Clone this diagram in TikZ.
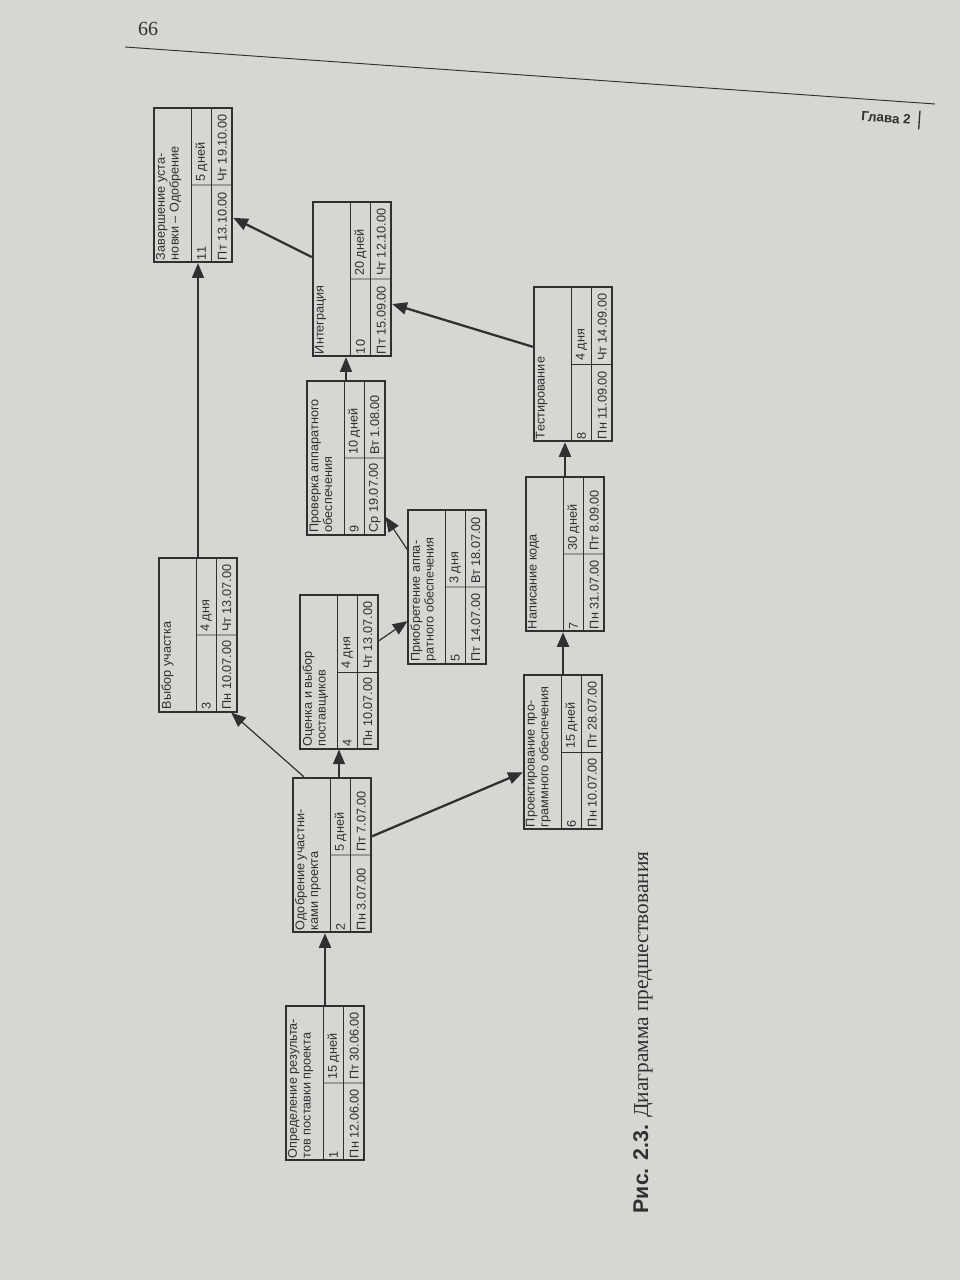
\documentclass[tikz,border=0pt]{standalone}
\usepackage{fontspec}
\setmainfont{Liberation Serif}
\setsansfont{Liberation Sans}
\usetikzlibrary{arrows.meta,calc}

\definecolor{paper}{RGB}{214,214,211}
\definecolor{ink}{RGB}{48,48,48}

\tikzset{
  taskbox/.style={draw=ink,rotate=90,minimum width=115.5pt,minimum height=58.5pt,inner sep=0pt},
  critical/.style={line width=1.8pt},
  plain/.style={line width=0.8pt},
  cell/.style={rotate=90,inner sep=2.2pt,text=ink,font=\sffamily\fontsize{9.5}{10.3}\selectfont},
  link/.style={draw=ink,line width=0.9pt,-{Triangle[length=11pt,width=9pt]}},
  critlink/.style={link,line width=1.7pt},
}

% #1 name, #2 centre, #3 weight, #4 title, #5 id, #6 duration, #7 start, #8 finish
\newcommand{\pdmtask}[8]{%
  \node[taskbox,#3] (#1) at #2 {};
  \draw[ink,line width=0.6pt] ($(#1.north west)!0.48!(#1.south west)$) -- ($(#1.north east)!0.48!(#1.south east)$);
  \draw[ink,line width=0.6pt] ($(#1.north west)!0.73!(#1.south west)$) -- ($(#1.north east)!0.73!(#1.south east)$);
  \draw[ink,line width=0.6pt] ($(#1.north)!0.48!(#1.south)$) -- (#1.south);
  \node[cell,anchor=north west,align=left] (#1t) at (#1.north west) {#4};
  \node[cell,anchor=west] (#1i) at ($(#1.north west)!0.605!(#1.south west)$) {#5};
  \node[cell,anchor=west] (#1d) at ($(#1.north)!0.605!(#1.south)$) {#6};
  \node[cell,anchor=west] (#1s) at ($(#1.north west)!0.865!(#1.south west)$) {#7};
  \node[cell,anchor=west] (#1f) at ($(#1.north)!0.865!(#1.south)$) {#8};
}

\begin{document}
\begin{tikzpicture}[x=0.75pt,y=-0.75pt]
\fill[paper] (0,0) rectangle (960,1280);
\useasboundingbox (0,0) rectangle (960,1280);

% page head
\node[font=\fontsize{15}{15}\selectfont,text=ink] (page) at (148,29) {66};
\coordinate (ruleL) at (125,47);
\coordinate (ruleR) at (935,104);
\draw[ink,line width=0.7pt] (ruleL) -- (ruleR);
\node[rotate=-4,font=\sffamily\bfseries\fontsize{10}{10}\selectfont,text=ink] (chap) at (886,118) {Глава 2};
\draw[ink,line width=1pt] ($(chap.north east)+(4,0)$) -- ($(chap.south east)+(4,0)$);

% tasks
\pdmtask{n1}{(325,1083)}{critical}{Определение результа-\\тов поставки проекта}{1}{15 дней}{Пн 12.06.00}{Пт 30.06.00}
\pdmtask{n2}{(332,855)}{critical}{Одобрение участни-\\ками проекта}{2}{5 дней}{Пн 3.07.00}{Пт 7.07.00}
\pdmtask{n3}{(198,635)}{plain}{Выбор участка}{3}{4 дня}{Пн 10.07.00}{Чт 13.07.00}
\pdmtask{n4}{(339,672)}{plain}{Оценка и выбор\\поставщиков}{4}{4 дня}{Пн 10.07.00}{Чт 13.07.00}
\pdmtask{n5}{(447,587)}{plain}{Приобретение аппа-\\ратного обеспечения}{5}{3 дня}{Пт 14.07.00}{Вт 18.07.00}
\pdmtask{n6}{(563,752)}{critical}{Проектирование про-\\граммного обеспечения}{6}{15 дней}{Пн 10.07.00}{Пт 28.07.00}
\pdmtask{n7}{(565,554)}{critical}{Написание кода}{7}{30 дней}{Пн 31.07.00}{Пт 8.09.00}
\pdmtask{n8}{(573,364)}{critical}{Тестирование}{8}{4 дня}{Пн 11.09.00}{Чт 14.09.00}
\pdmtask{n9}{(346,458)}{plain}{Проверка аппаратного\\обеспечения}{9}{10 дней}{Ср 19.07.00}{Вт 1.08.00}
\pdmtask{n10}{(352,279)}{critical}{Интеграция}{10}{20 дней}{Пт 15.09.00}{Чт 12.10.00}
\pdmtask{n11}{(193,185)}{critical}{Завершение уста-\\новки – Одобрение}{11}{5 дней}{Пт 13.10.00}{Чт 19.10.00}

% links
\draw[critlink] (n1.east) -- (n1.east |- n2.west);
\draw[link] ($(n2.north east)!0.15!(n2.south east)$) -- ($(n3.north west)!0.92!(n3.south west)$);
\draw[link] (n4.west |- n2.east) -- (n4.west);
\draw[critlink] ($(n2.south east)!0.38!(n2.south west)$) -- ($(n6.north east)!0.63!(n6.north west)$);
\draw[link] ($(n4.south east)!0.3!(n4.south west)$) -- ($(n5.north east)!0.72!(n5.north west)$);
\draw[link] ($(n5.north east)!0.26!(n5.north west)$) -- ($(n9.south east)!0.88!(n9.south west)$);
\draw[link] (n9.east) -- (n9.east |- n10.west);
\draw[critlink] (n6.east) -- (n6.east |- n7.west);
\draw[critlink] (n7.east) -- (n7.east |- n8.west);
\draw[critlink] ($(n8.north east)!0.39!(n8.north west)$) -- ($(n10.south east)!0.66!(n10.south west)$);
\draw[critlink] ($(n10.north east)!0.36!(n10.north west)$) -- ($(n11.south east)!0.71!(n11.south west)$);
\draw[link] (n3.east) -- (n3.east |- n11.west);

% caption
\node[rotate=90,anchor=west,text=ink,font=\fontsize{16}{16}\selectfont] (caption) at (643,1218)
  {{\sffamily\bfseries Рис. 2.3.} Диаграмма предшествования};
\end{tikzpicture}
\end{document}
